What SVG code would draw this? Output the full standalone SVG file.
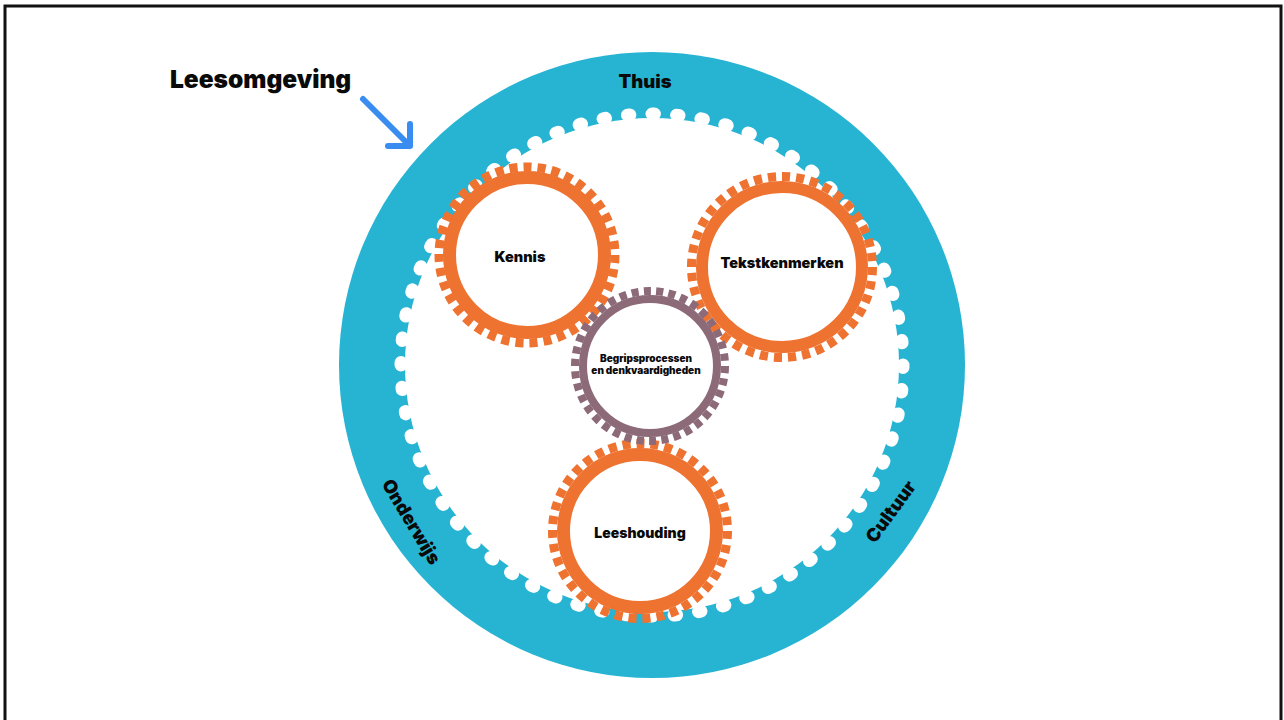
<svg xmlns="http://www.w3.org/2000/svg" width="1284" height="720" viewBox="0 0 1284 720">
<defs>
<style>
.lbl{font-family:Inter,"Liberation Sans",Arial,sans-serif;font-weight:900;fill:#0a0a0a;text-anchor:middle}
.orange{stroke:#EE7230}
.purple{stroke:#8C6A78}
.teeth{fill:none;stroke-dasharray:1.15 0.85}
.body{fill:#ffffff}
</style>
</defs>
<rect x="0" y="0" width="1284" height="720" fill="#ffffff"/>
<path d="M5,720 V6 H1281 V720" fill="none" stroke="#111" stroke-width="3"/>

<g id="leesomgeving-ring">
<circle cx="652" cy="365" r="313" fill="#27B4D3"/>
<circle cx="652" cy="365" r="247" fill="#ffffff"/>
<circle cx="652" cy="365" r="251" fill="none" stroke="#ffffff" stroke-width="13" stroke-linecap="round" pathLength="64" stroke-dasharray="0.1 0.9"/>
<text class="lbl" x="645" y="88" font-size="18.5">Thuis</text>
<text class="lbl" font-size="18.5" transform="translate(411,522) rotate(59)" y="6">Onderwijs</text>
<text class="lbl" font-size="18.5" transform="translate(891,512) rotate(-54)" y="6">Cultuur</text>
</g>

<g id="kennis">
<circle class="teeth orange" cx="527" cy="255" r="88" stroke-width="9" pathLength="78"/>
<circle class="body orange" cx="527" cy="255" r="77.5" stroke-width="13"/>
<text class="lbl" x="520" y="262" font-size="14.5">Kennis</text>
</g>

<g id="tekstkenmerken">
<circle class="teeth orange" cx="782" cy="267" r="90.5" stroke-width="9" pathLength="80"/>
<circle class="body orange" cx="782" cy="267" r="80" stroke-width="12"/>
<text class="lbl" x="782" y="268" font-size="14.5">Tekstkenmerken</text>
</g>

<g id="leeshouding">
<circle class="teeth orange" cx="640" cy="531" r="87.5" stroke-width="9" pathLength="78"/>
<circle class="body orange" cx="640" cy="531" r="76.5" stroke-width="13"/>
<text class="lbl" x="640" y="538" font-size="14">Leeshouding</text>
</g>

<g id="begripsprocessen">
<circle class="teeth purple" cx="650" cy="366" r="75" stroke-width="8" pathLength="76"/>
<circle class="body purple" cx="650" cy="366" r="67" stroke-width="8"/>
<text class="lbl" x="646" y="362" font-size="10">Begripsprocessen</text>
<text class="lbl" x="646" y="374" font-size="10">en denkvaardigheden</text>
</g>

<g id="leesomgeving-label">
<text x="170" y="88" font-size="24.5" font-family="Inter,'Liberation Sans',Arial,sans-serif" font-weight="900" fill="#0a0a0a">Leesomgeving</text>
</g>

<g id="connectors">
<path d="M363,99 L410,146 M388,146 H410 V124" fill="none" stroke="#3A8DF0" stroke-width="6" stroke-linecap="round" stroke-linejoin="round"/>
</g>
</svg>
